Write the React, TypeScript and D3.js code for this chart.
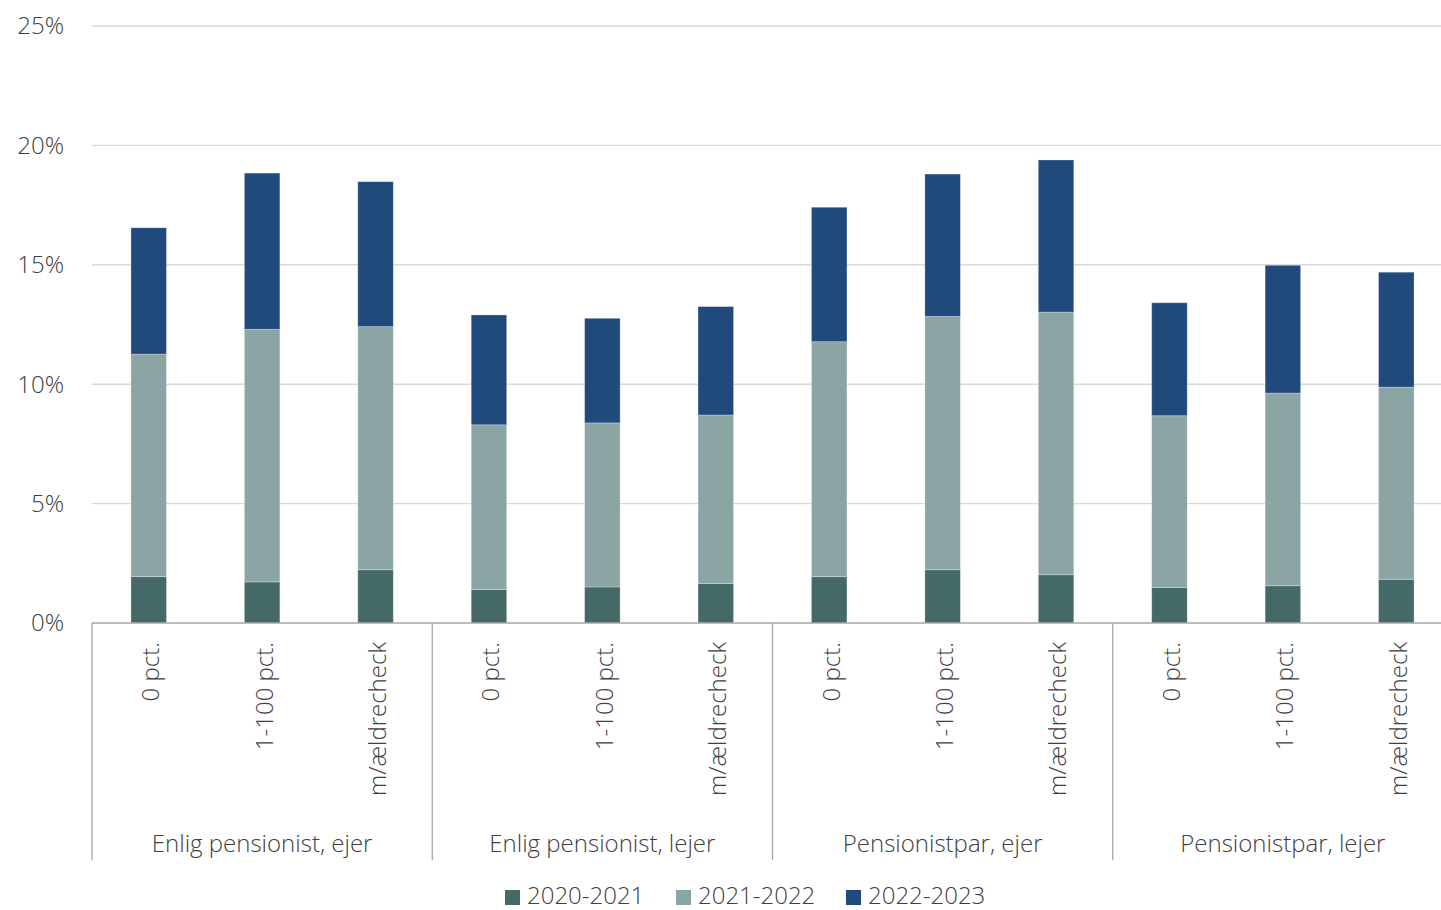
import React from "react";
import * as d3 from "d3";

const groups = ["Enlig pensionist, ejer", "Enlig pensionist, lejer", "Pensionistpar, ejer", "Pensionistpar, lejer"];
const subLabels = ["0 pct.", "1-100 pct.", "m/ældrecheck"];
const seriesNames = ["2020-2021", "2021-2022", "2022-2023"];
const seriesColors = ["#456966", "#8ba5a4", "#20497c"];

// values in percent, order: groups x subLabels
const s2020 = [1.94, 1.72, 2.23, 1.40, 1.51, 1.65, 1.94, 2.23, 2.02, 1.49, 1.56, 1.83];
const s2021 = [9.32, 10.58, 10.18, 6.90, 6.87, 7.06, 9.84, 10.61, 11.00, 7.19, 8.07, 8.05];
const s2022 = [5.29, 6.54, 6.07, 4.60, 4.38, 4.54, 5.63, 5.96, 6.37, 4.73, 5.35, 4.81];
const yTicks = [0, 5, 10, 15, 20, 25];

const W = 1441;
const H = 910;
const left = 92;
const plotRight = 1453;
const y0 = 623;
const yTop = 26;
const font = "'Open Sans', 'Noto Sans', sans-serif";
const textColor = "#404040";
const fw = 300;

export default function App() {
  const cats = d3.range(groups.length * subLabels.length);
  const x = d3.scaleBand<number>().domain(cats).range([left, plotRight]).padding(0);
  const y = d3.scaleLinear().domain([0, 25]).range([y0, yTop]);
  const barW = x.bandwidth() * 0.313;

  const rows = cats.map((i) => ({ i, a: s2020[i], b: s2021[i], c: s2022[i] }));
  const stack = d3.stack<any>().keys(["a", "b", "c"])(rows);

  const groupW = x.step() * subLabels.length;

  const legendItems = [
    { name: seriesNames[0], x: 505 },
    { name: seriesNames[1], x: 676 },
    { name: seriesNames[2], x: 846 },
  ];

  return (
    <svg width={W} height={H} style={{ position: "absolute", left: 0, top: 0, display: "block" }}>
      <rect width={W} height={H} fill="#ffffff" />
      {/* gridlines */}
      {yTicks.filter((t) => t > 0).map((t) => (
        <line key={t} x1={left} x2={W} y1={y(t)} y2={y(t)} stroke="#d9d9d9" strokeWidth={1.4} />
      ))}
      {/* y tick labels */}
      {yTicks.map((t) => (
        <text key={t} x={64} y={y(t)} dy="0.35em" textAnchor="end" fontFamily={font} fontWeight={fw} fontSize={24} fill={textColor}>
          {t}%
        </text>
      ))}
      {/* bars */}
      {stack.map((layer, si) => (
        <g key={si} fill={seriesColors[si]}>
          {layer.map((d, i) => (
            <rect
              key={i}
              x={(x(i) as number) + (x.bandwidth() - barW) / 2}
              y={y(d[1])}
              width={barW}
              height={y(d[0]) - y(d[1])}
              stroke="#ffffff"
              strokeOpacity={0.35}
              strokeWidth={0.8}
            />
          ))}
        </g>
      ))}
      {/* x axis line */}
      <line x1={left} x2={W} y1={y0} y2={y0} stroke="#a6a6a6" strokeWidth={1.6} />
      {/* group separators */}
      {groups.map((g, gi) => (
        <line key={g} x1={left + gi * groupW} x2={left + gi * groupW} y1={y0} y2={860} stroke="#a6a6a6" strokeWidth={1.3} />
      ))}
      {/* rotated sub labels */}
      {cats.map((i) => {
        const cx = (x(i) as number) + x.bandwidth() / 2;
        return (
          <text
            key={i}
            transform={`translate(${cx + 2},642) rotate(-90)`}
            dy="0.35em"
            textAnchor="end"
            fontFamily={font}
            fontWeight={fw}
            fontSize={24}
            fill={textColor}
          >
            {subLabels[i % subLabels.length]}
          </text>
        );
      })}
      {/* group labels */}
      {groups.map((g, gi) => (
        <text key={g} x={left + gi * groupW + groupW / 2} y={852} textAnchor="middle" fontFamily={font} fontWeight={fw} fontSize={24} fill={textColor}>
          {g}
        </text>
      ))}
      {/* legend */}
      {legendItems.map((l, li) => (
        <g key={l.name}>
          <rect x={l.x} y={890} width={15} height={15} fill={seriesColors[li]} />
          <text x={l.x + 22} y={904} fontFamily={font} fontWeight={fw} fontSize={24} fill={textColor}>
            {l.name}
          </text>
        </g>
      ))}
    </svg>
  );
}
